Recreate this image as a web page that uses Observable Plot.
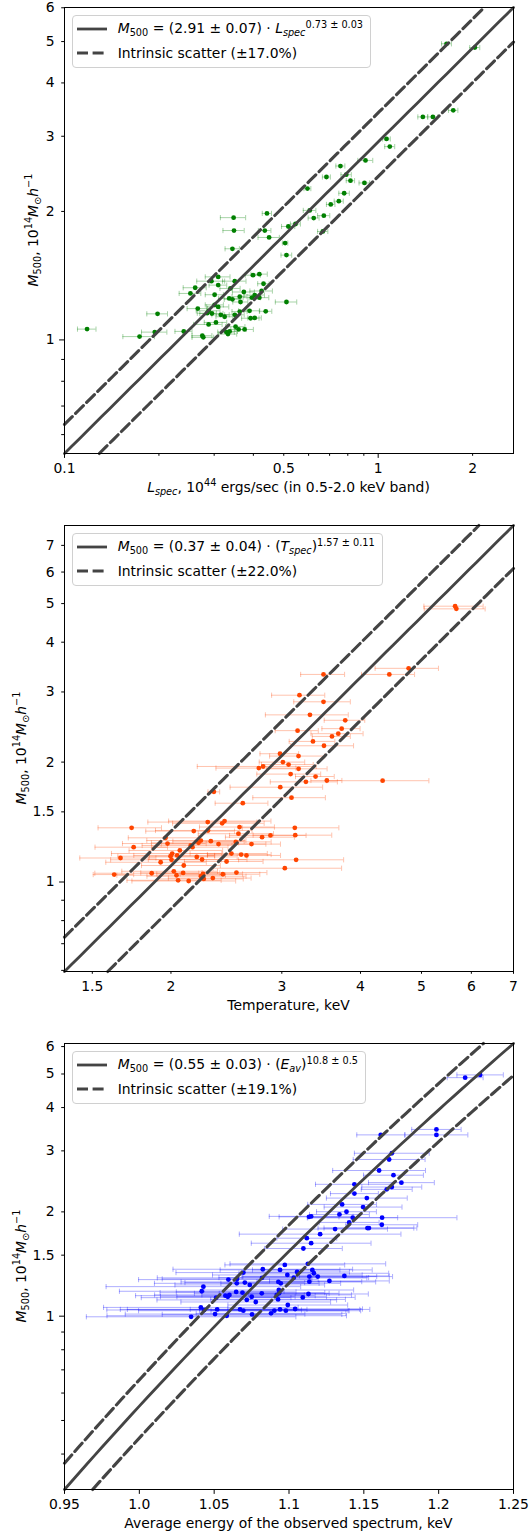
<!DOCTYPE html>
<html><head><meta charset="utf-8">
<script src="https://cdn.jsdelivr.net/npm/d3@7"></script>
<script src="https://cdn.jsdelivr.net/npm/@observablehq/plot@0.6"></script>
<style>
html,body{margin:0;padding:0;background:#fff;}
#root{position:relative;width:531px;height:1535px;overflow:hidden;font-family:"DejaVu Sans",sans-serif;}
.pnl{position:absolute;left:0;}
.pnl svg{display:block;}
.leg{position:absolute;box-sizing:border-box;border:1px solid #d0d0d0;border-radius:4px;background:rgba(255,255,255,0.85);font-size:13.9px;line-height:24px;padding:1px 7px 2px 4px;white-space:nowrap;color:#000;}
.row{display:flex;align-items:center;height:24px;}
.row svg{flex:none;margin-right:11px;}
.leg sub{font-size:70%;vertical-align:baseline;position:relative;top:0.3em;}
.leg sup{font-size:70%;vertical-align:baseline;position:relative;top:-0.55em;}
</style></head><body><div id="root"></div>
<script>
// ---------- Panel 1: luminosity ----------
const lspec = [1.652,2.033,1.388,1.494,1.735,1.063,1.089,0.911,0.758,0.684,
0.791,0.816,0.904,0.595,0.779,0.749,0.706,0.671,0.623,0.605,
0.442,0.346,0.347,0.435,0.449,0.517,0.545,0.505,0.666,0.51,
0.343,0.399,0.418,0.309,0.349,0.294,0.309,0.431,0.261,0.338,
0.252,0.373,0.301,0.404,0.425,0.362,0.335,0.343,0.396,0.418,
0.364,0.51,0.301,0.309,0.266,0.288,0.285,0.295,0.315,0.324,
0.349,0.362,0.389,0.438,0.198,0.392,0.404,0.288,0.304,0.351,
0.359,0.375,0.336,0.332,0.328,0.24,0.118,0.1735,0.194,0.275,
0.277];
const mass1 = [4.94,4.84,3.33,3.33,3.45,2.957,2.837,2.633,2.555,2.408,
2.438,2.361,2.332,2.262,2.206,2.114,2.077,1.955,1.93,2.011,
1.979,1.934,1.804,1.804,1.738,1.844,1.869,1.686,1.795,1.58,
1.635,1.418,1.426,1.405,1.373,1.373,1.344,1.354,1.325,1.32,
1.285,1.295,1.276,1.274,1.302,1.263,1.251,1.245,1.256,1.256,
1.227,1.227,1.208,1.195,1.184,1.17,1.155,1.153,1.145,1.133,
1.145,1.165,1.17,1.167,1.151,1.124,1.126,1.087,1.099,1.074,
1.058,1.058,1.047,1.032,1.043,1.047,1.06,1.018,1.043,1.023,
1.014];
const lerr = [0.06,0.075,0.05,0.055,0.06,0.03,0.04,0.05,0.025,0.02,
0.03,0.025,0.035,0.015,0.03,0.025,0.022,0.03,0.025,0.028,
0.015,0.032,0.027,0.02,0.035,0.025,0.02,0.01,0.025,0.02,
0.018,0.022,0.025,0.028,0.03,0.03,0.02,0.018,0.022,0.025,
0.02,0.03,0.02,0.03,0.035,0.02,0.025,0.02,0.025,0.03,
0.02,0.04,0.02,0.025,0.02,0.025,0.02,0.025,0.02,0.02,
0.025,0.02,0.03,0.02,0.015,0.025,0.02,0.03,0.025,0.025,
0.02,0.025,0.02,0.022,0.02,0.015,0.008,0.02,0.018,0.02,
0.022];

// ---------- Panel 2: temperature ----------
const temp = [5.654,5.68,
4.77,4.445,3.494,3.2,3.494,3.325,3.783,3.734,3.688,3.604,
3.178,3.362,3.5,2.98,3.189,3.012,3.075,2.802,2.758,3.19,
3.098,3.394,3.276,3.537,4.337,2.983,3.108,2.34,2.601,
1.732,2.288,2.412,2.433,2.57,3.146,2.174,2.29,1.961,2.56,
2.791,2.878,3.151,1.975,2.231,2.212,2.314,2.38,2.535,2.685,
1.745,2.15,2.164,2.066,2.009,1.997,2.046,2.198,2.241,2.495,
2.585,2.636,1.663,2.004,1.926,2.451,3.161,2.096,3.033,2.021,
2.091,1.625,1.864,2.041,2.249,2.232,2.418,2.541,2.053,2.134,
2.255,2.331];
const mass2 = [4.925,4.85,
3.439,3.32,3.32,2.944,2.834,2.628,2.547,2.427,2.357,2.32,
2.399,2.254,2.198,2.099,2.071,2.0,1.972,1.95,1.932,1.924,
1.866,1.84,1.784,1.798,1.796,1.73,1.628,1.684,1.577,
1.368,1.414,1.404,1.422,1.374,1.368,1.342,1.347,1.291,1.322,
1.296,1.309,1.311,1.249,1.271,1.254,1.266,1.245,1.261,1.245,
1.223,1.235,1.223,1.2,1.179,1.161,1.166,1.156,1.139,1.179,
1.172,1.166,1.149,1.137,1.121,1.126,1.137,1.1,1.083,1.064,
1.054,1.044,1.052,1.04,1.048,1.034,1.046,1.056,1.01,1.006,
1.018,1.023];
const terr = [0.61,0.63,
0.55,0.43,0.28,0.31,0.36,0.5,0.28,0.26,0.35,0.25,
0.25,0.28,0.4,0.21,0.32,0.25,0.29,0.6,0.4,0.35,
0.36,0.24,0.4,0.2,0.8,0.5,0.41,0.05,0.25,
0.2,0.45,0.4,0.45,0.35,0.55,0.35,0.4,0.25,0.35,
0.35,0.4,0.45,0.3,0.4,0.35,0.3,0.45,0.35,0.3,
0.23,0.35,0.3,0.35,0.4,0.35,0.3,0.35,0.4,0.35,
0.3,0.35,0.23,0.4,0.35,0.35,0.6,0.3,0.7,0.35,
0.3,0.12,0.35,0.4,0.35,0.4,0.35,0.3,0.35,0.4,
0.35,0.35];

// ---------- Panel 3: average energy ----------
const eav = [1.2277,1.2177,1.1985,1.1985,1.1613,1.1687,1.1669,1.1602,1.1698,1.1751,
1.1687,1.1653,1.1437,1.1437,1.152,1.1355,1.1495,1.1384,1.1337,1.1148,
1.1134,1.1426,1.1622,1.1402,1.162,1.1524,1.1534,1.1308,1.1208,1.1119,
1.1148,1.1096,
1.0972,1.1126,1.0695,1.0825,1.094,1.0989,1.1054,1.1156,1.1166,1.0595,
1.0653,1.082,1.0929,1.0945,1.1032,1.1136,1.1136,1.1192,1.127,1.137,
1.0651,1.0705,1.0738,1.0428,1.0417,1.0932,1.0934,1.0513,1.0575,1.0591,
1.0602,1.0647,1.0689,1.0751,1.0818,1.0918,1.0927,1.0718,1.0778,1.1092,
1.113,1.0411,1.0433,1.052,1.0673,1.0695,1.0902,1.094,1.0979,1.0992,
1.1041,1.0346,1.0506,1.0584,1.0753,1.088];
const mass3 = [4.97,4.88,3.459,3.336,3.336,2.953,2.833,2.633,2.552,2.429,
2.359,2.323,2.402,2.258,2.192,2.102,2.065,2.002,1.966,1.941,
1.935,1.924,1.924,1.865,1.836,1.796,1.796,1.784,1.725,1.679,
1.624,1.568,
1.406,1.416,1.336,1.366,1.36,1.315,1.342,1.36,1.33,1.275,
1.281,1.29,1.256,1.244,1.292,1.301,1.258,1.301,1.264,1.307,
1.244,1.25,1.231,1.217,1.18,1.19,1.164,1.131,1.146,1.138,
1.152,1.175,1.169,1.138,1.164,1.152,1.118,1.114,1.099,1.133,
1.159,1.06,1.042,1.046,1.046,1.037,1.037,1.046,1.037,1.077,
1.049,0.996,1.014,1.003,1.012,1.019];
const eerr = [0.0155,0.012,0.0165,0.021,0.016,0.025,0.024,0.031,0.02,0.022,
0.02,0.017,0.026,0.016,0.027,0.023,0.026,0.02,0.02,0.028,
0.02,0.03,0.05,0.02,0.024,0.033,0.03,0.035,0.054,0.02,
0.04,0.026,
0.04,0.052,0.045,0.06,0.04,0.05,0.035,0.04,0.05,0.06,
0.05,0.07,0.065,0.04,0.05,0.045,0.035,0.05,0.04,0.03,
0.055,0.04,0.05,0.065,0.055,0.05,0.04,0.05,0.06,0.045,
0.05,0.04,0.055,0.05,0.045,0.05,0.045,0.06,0.05,0.035,
0.04,0.065,0.065,0.06,0.08,0.07,0.05,0.06,0.05,0.04,
0.045,0.07,0.06,0.08,0.06,0.05];

// ---------- Fit parameters (from legends) ----------
const fitNorm = [2.91, 0.37, 0.55];
const fitSlope = [0.73, 1.57, 10.8];
const fitScatter = [0.17, 0.22, 0.191];

// ---------- Tick values / labels ----------
const x1Major = [0.1, 1], x1Minor = [0.2,0.3,0.4,0.5,0.6,0.7,0.8,0.9,2];
const x1Labels = [[0.1,"0.1"],[0.5,"0.5"],[1,"1"],[2,"2"]];
const y1Major = [1], y1Minor = [0.6,0.7,0.8,0.9,2,3,4,5,6];
const y1Labels = [[1,"1"],[2,"2"],[3,"3"],[4,"4"],[5,"5"],[6,"6"]];
const x2Major = [], x2Minor = [1.5,2,3,4,5,6,7];
const x2Labels = [[1.5,"1.5"],[2,"2"],[3,"3"],[4,"4"],[5,"5"],[6,"6"],[7,"7"]];
const y2Major = [1], y2Minor = [0.6,0.7,0.8,0.9,1.5,2,3,4,5,6,7];
const y2Labels = [[1,"1"],[1.5,"1.5"],[2,"2"],[3,"3"],[4,"4"],[5,"5"],[6,"6"],[7,"7"]];
const x3Major = [0.95,1.0,1.05,1.1,1.15,1.2,1.25], x3Minor = [];
const x3Labels = [[0.95,"0.95"],[1.0,"1.0"],[1.05,"1.05"],[1.1,"1.1"],[1.15,"1.15"],[1.2,"1.2"],[1.25,"1.25"]];
const y3Major = [1], y3Minor = [0.4,0.5,0.6,0.7,0.8,0.9,1.5,2,3,4,5,6];
const y3Labels = [[1,"1"],[1.5,"1.5"],[2,"2"],[3,"3"],[4,"4"],[5,"5"],[6,"6"]];

const FS = 13.9;
const LINE = "#444444";
const DASH = "11,4.6";
const capSymbol = {draw(ctx, size) { const h = Math.sqrt(size / Math.PI); ctx.moveTo(0, -h); ctx.lineTo(0, h); }};

function addMath(sel, parts) {
  let cur = 0;
  for (const [t, k] of parts) {
    const sub = k.includes("sub"), sup = k.includes("sup");
    const target = sup ? -0.42 * FS : sub ? 0.22 * FS : 0;
    const ts = sel.append("tspan").attr("dy", (target - cur).toFixed(2))
      .attr("font-size", (sub || sup) ? FS * 0.7 : FS).text(t);
    if (k.startsWith("i")) ts.attr("font-style", "italic");
    cur = target;
  }
}
const yLabelParts = [["M","i"],["500","sub"],[", 10","n"],["14","sup"],["M","i"],["\u2299","sub"],["h","i"],["\u22121","sup"]];

const root = document.getElementById("root");
const PT = 7, PB = 453, PL = 64, PR = 513;

function sample(dashed) {
  return `<svg width="30" height="10"><line x1="0" y1="5" x2="30" y2="5" stroke="${LINE}" stroke-width="${dashed ? 3.1 : 2.8}" ${dashed ? `stroke-dasharray="${DASH}"` : ""}/></svg>`;
}

function makePanel(c) {
  const pts = c.xs.map((x, i) => ({x, y: c.ys[i], e: c.es[i]}));
  const A = c.A, B = c.B;
  const f = x => A * Math.pow(x, B);
  const yDomain = [f(c.xDomain[0]), f(c.xDomain[1])];
  const curve = k => {
    let x0 = c.xDomain[0], x1 = c.xDomain[1];
    if (A * k * Math.pow(x0, B) < yDomain[0]) x0 = Math.pow(yDomain[0] / (A * k), 1 / B);
    if (A * k * Math.pow(x1, B) > yDomain[1]) x1 = Math.pow(yDomain[1] / (A * k), 1 / B);
    const n = 60;
    return d3.range(n + 1).map(i => {
      const t = i / n;
      const x = c.xType === "log" ? x0 * Math.pow(x1 / x0, t) : x0 + (x1 - x0) * t;
      return {x, y: A * k * Math.pow(x, B)};
    });
  };
  const xl = new Map(c.xLabels), yl = new Map(c.yLabels);
  const op = c.barOpacity;
  const marks = [
    Plot.ruleY(pts, {y: "y", x1: d => d.x - d.e, x2: d => d.x + d.e, stroke: c.color, strokeOpacity: op, strokeWidth: 1}),
    Plot.dot(pts, {x: d => d.x - d.e, y: "y", symbol: capSymbol, r: 2.6, stroke: c.color, strokeOpacity: op, fill: "none", strokeWidth: 1}),
    Plot.dot(pts, {x: d => d.x + d.e, y: "y", symbol: capSymbol, r: 2.6, stroke: c.color, strokeOpacity: op, fill: "none", strokeWidth: 1}),
    Plot.dot(pts, {x: "x", y: "y", r: 2.4, fill: c.color, stroke: "none"}),
    Plot.line(curve(1), {x: "x", y: "y", stroke: LINE, strokeWidth: 2.8}),
    Plot.line(curve(1 + c.s), {x: "x", y: "y", stroke: LINE, strokeWidth: 3.1, strokeDasharray: DASH}),
    Plot.line(curve(1 - c.s), {x: "x", y: "y", stroke: LINE, strokeWidth: 3.1, strokeDasharray: DASH}),
    Plot.frame({stroke: "black", strokeWidth: 1})
  ];
  if (c.xMajor.length) marks.push(Plot.axisX({ticks: c.xMajor, tickSize: 4.9, fill: "none", stroke: "black", label: null}));
  if (c.xMinor.length) marks.push(Plot.axisX({ticks: c.xMinor, tickSize: 2.8, fill: "none", stroke: "black", label: null}));
  marks.push(Plot.axisX({ticks: c.xLabels.map(d => d[0]), tickSize: 0, tickPadding: 10, tickFormat: d => xl.get(d), fill: "black", fontSize: FS, label: null}));
  if (c.yMajor.length) marks.push(Plot.axisY({ticks: c.yMajor, tickSize: 4.9, fill: "none", stroke: "black", label: null}));
  if (c.yMinor.length) marks.push(Plot.axisY({ticks: c.yMinor, tickSize: 2.8, fill: "none", stroke: "black", label: null}));
  marks.push(Plot.axisY({ticks: c.yLabels.map(d => d[0]), tickSize: 0, tickPadding: 9.8, tickFormat: d => yl.get(d), fill: "black", fontSize: FS, label: null}));

  const svg = Plot.plot({
    width: 531, height: c.height,
    marginTop: PT, marginBottom: c.height - PB, marginLeft: PL, marginRight: 531 - PR,
    style: {fontFamily: "DejaVu Sans", fontSize: FS + "px", color: "black", background: "white", overflow: "visible"},
    x: {type: c.xType, domain: c.xDomain, axis: null, label: null},
    y: {type: "log", domain: yDomain, axis: null, label: null},
    marks
  });
  const s = d3.select(svg);
  const ylab = s.append("text")
    .attr("transform", `translate(${c.yLabX},${(PT + PB) / 2}) rotate(-90)`)
    .attr("text-anchor", "middle").attr("font-family", "DejaVu Sans").attr("fill", "black")
    .style("white-space", "pre");
  addMath(ylab, yLabelParts);
  const xlab = s.append("text")
    .attr("x", (PL + PR) / 2).attr("y", 491.5)
    .attr("text-anchor", "middle").attr("font-family", "DejaVu Sans").attr("fill", "black")
    .style("white-space", "pre");
  addMath(xlab, c.xLabel);

  const div = document.createElement("div");
  div.className = "pnl";
  div.style.top = c.top + "px";
  div.appendChild(svg);
  root.appendChild(div);

  const leg = document.createElement("div");
  leg.className = "leg";
  leg.style.left = "71.7px";
  leg.style.top = (c.top + PT + 8) + "px";
  leg.innerHTML = `<div class="row">${sample(false)}<span>${c.leg1}</span></div><div class="row">${sample(true)}<span>${c.leg2}</span></div>`;
  root.appendChild(leg);
}

makePanel({
  top: 0, height: 518, xType: "log", xDomain: [0.1, 2.7],
  xs: lspec, ys: mass1, es: lerr, color: "#008000", barOpacity: 0.35,
  A: fitNorm[0], B: fitSlope[0], s: fitScatter[0],
  xMajor: x1Major, xMinor: x1Minor, xLabels: x1Labels,
  yMajor: y1Major, yMinor: y1Minor, yLabels: y1Labels,
  yLabX: 38,
  xLabel: [["L","i"],["spec","isub"],[", 10","n"],["44","sup"],[" ergs/sec (in 0.5-2.0 keV band)","n"]],
  leg1: `<i>M</i><sub>500</sub> = (2.91 ± 0.07) · <i>L</i><sub><i>spec</i></sub><sup>0.73 ± 0.03</sup>`,
  leg2: `Intrinsic scatter (±17.0%)`
});
makePanel({
  top: 518, height: 518, xType: "log", xDomain: [1.355, 7],
  xs: temp, ys: mass2, es: terr, color: "#ff4500", barOpacity: 0.32,
  A: fitNorm[1], B: fitSlope[1], s: fitScatter[1],
  xMajor: x2Major, xMinor: x2Minor, xLabels: x2Labels,
  yMajor: y2Major, yMinor: y2Minor, yLabels: y2Labels,
  yLabX: 25.5,
  xLabel: [["Temperature, keV","n"]],
  leg1: `<i>M</i><sub>500</sub> = (0.37 ± 0.04) · (<i>T</i><sub><i>spec</i></sub>)<sup>1.57 ± 0.11</sup>`,
  leg2: `Intrinsic scatter (±22.0%)`
});
makePanel({
  top: 1036, height: 499, xType: "linear", xDomain: [0.95, 1.25],
  xs: eav, ys: mass3, es: eerr, color: "#0000ff", barOpacity: 0.32,
  A: fitNorm[2], B: fitSlope[2], s: fitScatter[2],
  xMajor: x3Major, xMinor: x3Minor, xLabels: x3Labels,
  yMajor: y3Major, yMinor: y3Minor, yLabels: y3Labels,
  yLabX: 25.5,
  xLabel: [["Average energy of the observed spectrum, keV","n"]],
  leg1: `<i>M</i><sub>500</sub> = (0.55 ± 0.03) · (<i>E</i><sub><i>av</i></sub>)<sup>10.8 ± 0.5</sup>`,
  leg2: `Intrinsic scatter (±19.1%)`
});
</script></body></html>
